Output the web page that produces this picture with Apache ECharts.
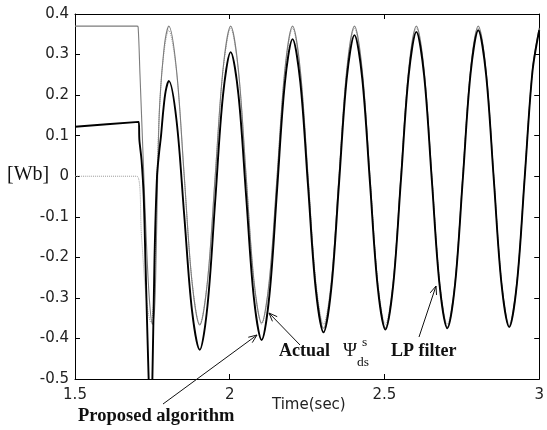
<!DOCTYPE html>
<html>
<head>
<meta charset="utf-8">
<script src="https://cdn.jsdelivr.net/npm/echarts@6/dist/echarts.min.js"></script>
<style>
html,body{margin:0;padding:0;background:#fff;}
#chart{width:547px;height:430px;}
</style>
</head>
<body>
<div id="chart"></div>
<script>
// ---- data ----
const xTicks = [1.5, 2, 2.5, 3];
const yTicks = [0.4, 0.3, 0.2, 0.1, 0, -0.1, -0.2, -0.3, -0.4, -0.5];

const timeActual = [1.500, 1.700, 1.704, 1.710, 1.720, 1.730, 1.740, 1.750, 1.757, 1.762, 1.767, 1.772, 1.778, 1.784, 1.792,
  1.803, 1.828, 1.853, 1.878, 1.903, 1.928, 1.953, 1.978,
  2.003, 2.028, 2.053, 2.078, 2.103, 2.128, 2.153, 2.178,
  2.203, 2.228, 2.253, 2.278, 2.303, 2.328, 2.353, 2.378,
  2.403, 2.428, 2.453, 2.478, 2.503, 2.528, 2.553, 2.578,
  2.603, 2.628, 2.653, 2.678, 2.703, 2.728, 2.753, 2.778,
  2.803, 2.828, 2.853, 2.878, 2.903, 2.928, 2.953, 2.978, 3.000];
const fluxActual = [0.370, 0.370, 0.368, 0.250, 0.050, -0.150, -0.300, -0.365, -0.330, -0.200, 0.000, 0.150, 0.230, 0.285, 0.340,
  0.370, 0.262, 0.000, -0.260, -0.367, -0.260, 0.000, 0.262,
  0.370, 0.262, 0.000, -0.256, -0.362, -0.256, 0.000, 0.262,
  0.370, 0.262, 0.000, -0.265, -0.375, -0.265, 0.000, 0.262,
  0.370, 0.262, 0.000, -0.265, -0.374, -0.265, 0.000, 0.262,
  0.370, 0.262, 0.000, -0.264, -0.372, -0.264, 0.000, 0.262,
  0.370, 0.262, 0.000, -0.262, -0.370, -0.262, 0.000, 0.262, 0.366];

const timeProposed = [1.500, 1.706, 1.708, 1.715, 1.722, 1.728, 1.738, 1.744, 1.750, 1.757, 1.765, 1.772, 1.778, 1.785, 1.793,
  1.803, 1.828, 1.853, 1.878, 1.903, 1.928, 1.953, 1.978,
  2.003, 2.028, 2.053, 2.078, 2.103, 2.128, 2.153, 2.178,
  2.203, 2.228, 2.253, 2.278, 2.303, 2.328, 2.353, 2.378,
  2.403, 2.428, 2.453, 2.478, 2.503, 2.528, 2.553, 2.578,
  2.603, 2.628, 2.653, 2.678, 2.703, 2.728, 2.753, 2.778,
  2.803, 2.828, 2.853, 2.878, 2.903, 2.928, 2.953, 2.978, 3.000];
const fluxProposed = [0.122, 0.134, 0.090, 0.040, -0.050, -0.220, -0.500, -0.620, -0.500, -0.200, 0.000, 0.060, 0.100, 0.160, 0.210,
  0.235, 0.138, -0.097, -0.331, -0.428, -0.320, -0.061, 0.198,
  0.306, 0.202, -0.049, -0.300, -0.404, -0.295, -0.033, 0.229,
  0.338, 0.232, -0.024, -0.279, -0.385, -0.278, -0.019, 0.241,
  0.348, 0.242, -0.015, -0.272, -0.378, -0.270, -0.011, 0.248,
  0.356, 0.249, -0.010, -0.268, -0.375, -0.267, -0.008, 0.252,
  0.360, 0.253, -0.006, -0.265, -0.372, -0.264, -0.004, 0.257, 0.360];

const timeLP = [1.500, 1.700, 1.715, 1.730, 1.745, 1.755, 1.765, 1.780,
  1.803, 1.828, 1.853, 1.878, 1.903, 1.928, 1.953, 1.978,
  2.003, 2.028, 2.053, 2.078, 2.103, 2.128, 2.153, 2.178,
  2.203, 2.228, 2.253, 2.278, 2.303, 2.328, 2.353, 2.378,
  2.403, 2.428, 2.453, 2.478, 2.503, 2.528, 2.553, 2.578,
  2.603, 2.628, 2.653, 2.678, 2.703, 2.728, 2.753, 2.778,
  2.803, 2.828, 2.853, 2.878, 2.903, 2.928, 2.953, 2.978, 3.000];
const fluxLP = [0.000, 0.000, -0.150, -0.300, -0.360, -0.300, 0.000, 0.250,
  0.360, 0.258, 0.000, -0.258, -0.365, -0.258, 0.000, 0.258,
  0.365, 0.258, 0.000, -0.258, -0.365, -0.258, 0.000, 0.258,
  0.365, 0.258, 0.000, -0.258, -0.365, -0.258, 0.000, 0.258,
  0.365, 0.258, 0.000, -0.258, -0.365, -0.258, 0.000, 0.258,
  0.365, 0.258, 0.000, -0.258, -0.365, -0.258, 0.000, 0.258,
  0.365, 0.258, 0.000, -0.258, -0.365, -0.258, 0.000, 0.258, 0.362];

// ---- chart ----
const zip = (t, v) => t.map((x, i) => [x, v[i]]);
const fmt = v => (Math.abs(v) < 1e-9 ? '0' : String(+(+v).toFixed(1)));

function arrow(x1, y1, x2, y2) {
  const a = Math.atan2(y2 - y1, x2 - x1), L = 9, s = 0.38;
  const h1 = [x2 - L * Math.cos(a - s), y2 - L * Math.sin(a - s)];
  const h2 = [x2 - L * Math.cos(a + s), y2 - L * Math.sin(a + s)];
  const st = { stroke: '#111', lineWidth: 1 };
  return [
    { type: 'line', shape: { x1, y1, x2, y2 }, style: st, z: 100 },
    { type: 'polyline', shape: { points: [h1, [x2, y2], h2] }, style: st, z: 100 }
  ];
}

const serif = '"Liberation Serif", "Times New Roman", serif';
const sans = '"DejaVu Sans", sans-serif';

const axisCommon = {
  type: 'value',
  axisLine: { show: true, onZero: false, lineStyle: { color: '#000', width: 1 } },
  axisTick: { show: true, inside: true, length: 5, lineStyle: { color: '#000' } },
  splitLine: { show: false }
};

const chart = echarts.init(document.getElementById('chart'), null, { renderer: 'canvas' });
chart.setOption({
  animation: false,
  backgroundColor: '#fff',
  grid: { left: 75, right: 5, top: 14, bottom: 51, containLabel: false },
  xAxis: [
    Object.assign({}, axisCommon, {
      min: xTicks[0], max: xTicks[xTicks.length - 1], interval: 0.5, position: 'bottom',
      axisLabel: { show: true, margin: 9, color: '#222', fontFamily: sans, fontSize: 15, formatter: fmt }
    }),
    Object.assign({}, axisCommon, {
      min: xTicks[0], max: xTicks[xTicks.length - 1], interval: 0.5, position: 'top',
      axisLabel: { show: false }
    })
  ],
  yAxis: [
    Object.assign({}, axisCommon, {
      min: yTicks[yTicks.length - 1], max: yTicks[0], interval: 0.1, position: 'left',
      axisLabel: { show: true, margin: 6, color: '#222', fontFamily: sans, fontSize: 15, formatter: fmt }
    }),
    Object.assign({}, axisCommon, {
      min: yTicks[yTicks.length - 1], max: yTicks[0], interval: 0.1, position: 'right',
      axisLabel: { show: false }
    })
  ],
  series: [
    {
      name: 'LP filter', type: 'line', data: zip(timeLP, fluxLP), showSymbol: false, smooth: 0.33,
      lineStyle: { color: '#9a9a9a', width: 1, type: 'dotted' }, z: 1
    },
    {
      name: 'Actual', type: 'line', data: zip(timeActual, fluxActual), showSymbol: false, smooth: 0.33,
      lineStyle: { color: '#7c7c7c', width: 1.1 }, z: 2
    },
    {
      name: 'Proposed algorithm', type: 'line', data: zip(timeProposed, fluxProposed), showSymbol: false, smooth: 0.33,
      lineStyle: { color: '#000', width: 1.9 }, z: 3
    }
  ],
  graphic: [
    { type: 'text', left: 7, top: 165, style: { text: '[Wb]', font: '20px ' + serif, fill: '#111' } },
    { type: 'text', x: 272, y: 405, style: { text: 'Time(sec)', font: '15px ' + sans, fill: '#222', textVerticalAlign: 'middle' } },
    { type: 'text', x: 78, y: 416, style: { text: 'Proposed algorithm', font: 'bold 18.5px ' + serif, fill: '#111', textVerticalAlign: 'middle' } },
    { type: 'text', x: 279, y: 351, style: { text: 'Actual', font: 'bold 18px ' + serif, fill: '#111', textVerticalAlign: 'middle' } },
    { type: 'text', x: 343, y: 351, style: { text: 'Ψ', font: '19px ' + serif, fill: '#111', textVerticalAlign: 'middle' } },
    { type: 'text', x: 362, y: 342, style: { text: 's', font: '13.5px ' + serif, fill: '#111', textVerticalAlign: 'middle' } },
    { type: 'text', x: 357, y: 362, style: { text: 'ds', font: '13.5px ' + serif, fill: '#111', textVerticalAlign: 'middle' } },
    { type: 'text', x: 391, y: 351, style: { text: 'LP filter', font: 'bold 18px ' + serif, fill: '#111', textVerticalAlign: 'middle' } }
  ].concat(arrow(163, 404, 257, 335), arrow(300, 345, 269, 313), arrow(419, 337, 436, 286))
});
</script>
</body>
</html>
